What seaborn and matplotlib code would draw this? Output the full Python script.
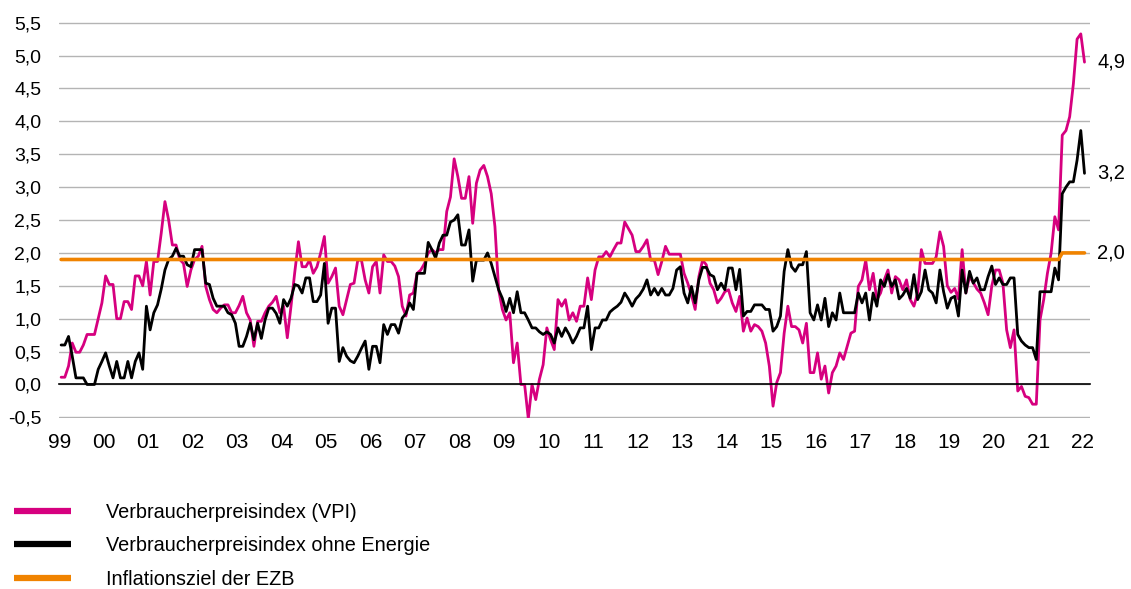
import numpy as np
import pandas as pd
import matplotlib.pyplot as plt
import seaborn as sns

# Monatswerte Jan 1999 .. Jan 2022, Veraenderung ggue. Vorjahresmonat in %
vpi = [
    0.11, 0.11, 0.28, 0.63, 0.49, 0.49, 0.60, 0.76, 0.76, 0.76, 1.00, 1.24,   # 1999
    1.65, 1.52, 1.52, 1.00, 1.00, 1.26, 1.26, 1.14, 1.65, 1.65, 1.50, 1.87,   # 2000
    1.36, 1.87, 1.87, 2.30, 2.78, 2.50, 2.12, 2.12, 1.90, 1.84, 1.49, 1.74,   # 2001
    1.90, 1.95, 2.10, 1.49, 1.29, 1.14, 1.09, 1.16, 1.21, 1.21, 1.09, 1.09,   # 2002
    1.20, 1.34, 1.09, 0.98, 0.58, 0.96, 0.96, 1.09, 1.19, 1.25, 1.34, 1.09,   # 2003
    1.19, 0.71, 1.19, 1.70, 2.17, 1.79, 1.79, 1.89, 1.69, 1.79, 2.00, 2.25,   # 2004
    1.54, 1.64, 1.77, 1.19, 1.06, 1.29, 1.52, 1.54, 1.89, 1.89, 1.59, 1.39,   # 2005
    1.79, 1.87, 1.39, 1.97, 1.87, 1.87, 1.80, 1.64, 1.19, 1.04, 1.36, 1.39,   # 2006
    1.69, 1.74, 1.84, 2.00, 2.05, 2.00, 2.05, 2.05, 2.63, 2.85, 3.43, 3.16,   # 2007
    2.83, 2.83, 3.16, 2.45, 3.06, 3.26, 3.33, 3.16, 2.90, 2.40, 1.44, 1.14,   # 2008
    0.98, 1.09, 0.33, 0.63, 0.00, 0.00, -0.52, 0.00, -0.23, 0.08, 0.30, 0.86, # 2009
    0.68, 0.53, 1.29, 1.19, 1.29, 0.98, 1.09, 0.96, 1.19, 1.19, 1.62, 1.29,   # 2010
    1.74, 1.94, 1.94, 2.02, 1.94, 2.05, 2.15, 2.15, 2.47, 2.37, 2.27, 2.02,   # 2011
    2.02, 2.10, 2.20, 1.89, 1.89, 1.67, 1.87, 2.10, 1.98, 1.98, 1.98, 1.98,   # 2012
    1.69, 1.54, 1.36, 1.14, 1.64, 1.89, 1.82, 1.54, 1.44, 1.24, 1.31, 1.41,   # 2013
    1.44, 1.24, 1.11, 1.34, 0.81, 1.01, 0.81, 0.91, 0.88, 0.81, 0.63, 0.28,   # 2014
    -0.33, 0.03, 0.18, 0.78, 1.19, 0.88, 0.88, 0.83, 0.63, 0.93, 0.18, 0.18,  # 2015
    0.48, 0.08, 0.28, -0.13, 0.18, 0.28, 0.48, 0.38, 0.58, 0.78, 0.81, 1.49,  # 2016
    1.59, 1.89, 1.44, 1.69, 1.29, 1.39, 1.59, 1.74, 1.39, 1.64, 1.59, 1.44,   # 2017
    1.59, 1.29, 1.19, 1.39, 2.05, 1.84, 1.84, 1.84, 1.94, 2.32, 2.10, 1.50,   # 2018
    1.40, 1.46, 1.30, 2.05, 1.39, 1.64, 1.55, 1.45, 1.39, 1.24, 1.06, 1.50,   # 2019
    1.74, 1.74, 1.54, 0.83, 0.56, 0.83, -0.10, -0.03, -0.18, -0.20, -0.30, -0.30,  # 2020
    0.98, 1.29, 1.69, 2.00, 2.55, 2.35, 3.79, 3.86, 4.07, 4.57, 5.25, 5.33,   # 2021
    4.90,                                                                     # 2022
]

vpi_ohne_energie = [
    0.60, 0.60, 0.73, 0.43, 0.10, 0.10, 0.10, 0.00, 0.00, 0.00, 0.23, 0.35,   # 1999
    0.48, 0.28, 0.10, 0.35, 0.10, 0.10, 0.35, 0.10, 0.35, 0.48, 0.23, 1.19,   # 2000
    0.83, 1.09, 1.21, 1.45, 1.74, 1.90, 1.95, 2.07, 1.95, 1.95, 1.82, 1.79,   # 2001
    2.05, 2.05, 2.05, 1.54, 1.52, 1.31, 1.19, 1.19, 1.19, 1.09, 1.06, 0.93,   # 2002
    0.58, 0.58, 0.73, 0.93, 0.68, 0.93, 0.70, 0.98, 1.16, 1.16, 1.08, 0.93,   # 2003
    1.29, 1.19, 1.31, 1.52, 1.50, 1.39, 1.62, 1.62, 1.26, 1.26, 1.36, 1.84,   # 2004
    0.93, 1.16, 1.16, 0.35, 0.56, 0.43, 0.36, 0.33, 0.43, 0.55, 0.66, 0.23,   # 2005
    0.58, 0.58, 0.33, 0.91, 0.76, 0.91, 0.91, 0.78, 1.01, 1.08, 1.24, 1.14,   # 2006
    1.69, 1.69, 1.69, 2.16, 2.05, 1.92, 2.15, 2.27, 2.27, 2.47, 2.50, 2.58,   # 2007
    2.12, 2.12, 2.35, 1.57, 1.89, 1.89, 1.89, 2.00, 1.84, 1.64, 1.44, 1.31,   # 2008
    1.11, 1.31, 1.09, 1.41, 1.09, 1.09, 0.98, 0.86, 0.86, 0.80, 0.76, 0.80,   # 2009
    0.76, 0.63, 0.86, 0.73, 0.86, 0.76, 0.63, 0.73, 0.86, 0.86, 1.19, 0.53,   # 2010
    0.86, 0.86, 0.98, 0.98, 1.10, 1.15, 1.19, 1.25, 1.39, 1.30, 1.19, 1.30,   # 2011
    1.36, 1.45, 1.59, 1.36, 1.46, 1.36, 1.46, 1.36, 1.36, 1.46, 1.74, 1.79,   # 2012
    1.39, 1.24, 1.49, 1.24, 1.59, 1.78, 1.78, 1.67, 1.64, 1.44, 1.54, 1.44,   # 2013
    1.77, 1.77, 1.44, 1.75, 1.04, 1.11, 1.11, 1.21, 1.21, 1.21, 1.14, 1.14,   # 2014
    0.81, 0.88, 1.04, 1.72, 2.05, 1.79, 1.72, 1.82, 1.82, 2.02, 1.09, 0.98,   # 2015
    1.21, 0.98, 1.31, 0.88, 1.09, 0.98, 1.39, 1.09, 1.09, 1.09, 1.09, 1.39,   # 2016
    1.24, 1.39, 0.98, 1.39, 1.19, 1.59, 1.49, 1.67, 1.49, 1.59, 1.30, 1.36,   # 2017
    1.46, 1.31, 1.67, 1.29, 1.41, 1.74, 1.44, 1.39, 1.24, 1.74, 1.41, 1.16,   # 2018
    1.31, 1.34, 1.04, 1.74, 1.39, 1.72, 1.54, 1.62, 1.44, 1.44, 1.64, 1.80,   # 2019
    1.52, 1.62, 1.52, 1.52, 1.62, 1.62, 0.76, 0.66, 0.60, 0.56, 0.56, 0.38,   # 2020
    1.41, 1.41, 1.41, 1.41, 1.77, 1.59, 2.90, 3.00, 3.08, 3.08, 3.41, 3.86,   # 2021
    3.21,                                                                     # 2022
]

# EZB-Ziel: "unter, aber nahe 2 %" bis Juni 2021, danach symmetrisch 2 %
ezb_ziel_alt = 1.9
ezb_ziel_neu = 2.0
ezb_wechsel = "2021-07"

jahr_labels = ["99", "00", "01", "02", "03", "04", "05", "06", "07", "08", "09", "10",
               "11", "12", "13", "14", "15", "16", "17", "18", "19", "20", "21", "22"]

serien = ["Verbraucherpreisindex (VPI)", "Verbraucherpreisindex ohne Energie", "Inflationsziel der EZB"]
farben = ["#d6007f", "#000000", "#f08300"]

# ---------------------------------------------------------------------------
monate = pd.period_range("1999-01", "2022-01", freq="M")
ziel = np.where(monate >= pd.Period(ezb_wechsel, "M"), ezb_ziel_neu, ezb_ziel_alt)

df = pd.DataFrame({
    "pos": np.arange(len(monate)) + 0.5,   # Punkte mittig im Monat
    serien[0]: vpi,
    serien[1]: vpi_ohne_energie,
    serien[2]: ziel,
})
df_long = df.melt(id_vars="pos", var_name="serie", value_name="wert")

sns.set_theme(style="white")
plt.rcParams["font.family"] = ["Liberation Sans", "DejaVu Sans"]
plt.rcParams["text.color"] = "black"

fig = plt.figure(figsize=(11.31, 5.89), dpi=100)
ax = fig.add_axes([0.0524, 0.2903, 0.9114, 0.6723])

sns.lineplot(data=df_long[df_long["serie"] != serien[2]], x="pos", y="wert", hue="serie",
             hue_order=serien[:2], palette=farben[:2], linewidth=2.0, legend=False, ax=ax)
sns.lineplot(data=df_long[df_long["serie"] == serien[2]], x="pos", y="wert",
             color=farben[2], linewidth=2.6, legend=False, ax=ax, zorder=3)

# Achsen
ax.set_xlim(0, 278)
ax.set_ylim(-0.51, 5.51)
yticks = np.arange(-0.5, 5.51, 0.5)
ax.set_yticks(yticks)
ax.set_yticklabels([f"{t:.1f}".replace(".", ",") for t in yticks])
ax.set_xticks(np.arange(0, len(monate), 12))
ax.set_xticklabels(jahr_labels)
ax.set_xlabel("")
ax.set_ylabel("")

ax.yaxis.grid(True, color="#b4b4b4", linewidth=1.0)
ax.xaxis.grid(False)
for s in ["left", "right", "top"]:
    ax.spines[s].set_visible(False)
ax.spines["bottom"].set_position(("data", 0))
ax.spines["bottom"].set_color("black")
ax.spines["bottom"].set_linewidth(1.2)
ax.tick_params(axis="x", direction="out", length=5, width=1.1, color="#333333",
               pad=30, labelsize=15, labelcolor="black")
ax.tick_params(axis="y", length=0, pad=13, labelsize=14, labelcolor="black")

# Endwerte rechts
endwerte = [vpi[-1], vpi_ohne_energie[-1], ziel[-1]]
for w in endwerte:
    ax.annotate(f"{w:.1f}".replace(".", ","), xy=(1, w), xycoords=("axes fraction", "data"),
                xytext=(5, 0), textcoords="offset points", va="center", ha="left",
                fontsize=14.5, color="black")

# Legende unter der Grafik
linien = ax.get_lines()[:3]
leg = fig.legend(linien, serien, loc="upper left", bbox_to_anchor=(0.012, 0.146),
                 frameon=False, fontsize=14.3, handlelength=2.9, handletextpad=1.75,
                 labelspacing=0.72, borderpad=0, borderaxespad=0, labelcolor="black")
for h in leg.legend_handles:
    h.set_linewidth(4.5)
    h.set_solid_capstyle("butt")

fig.savefig("out.png", dpi=100)
